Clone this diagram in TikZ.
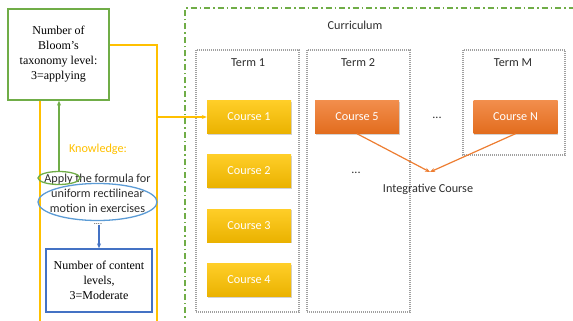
\documentclass[tikz,border=0pt]{standalone}
\usepackage{fontspec}
\setmainfont{Liberation Serif}
\newfontfamily\calib{Carlito}
\usetikzlibrary{arrows.meta,shapes.geometric,shadows}
\definecolor{ygold}{RGB}{255,192,0}
\definecolor{ggreen}{RGB}{112,173,71}
\definecolor{bblue}{RGB}{68,114,196}
\definecolor{lblue}{RGB}{91,155,213}
\definecolor{oorange}{RGB}{237,125,49}
\definecolor{dgray}{RGB}{160,160,160}
\definecolor{txt}{RGB}{45,45,45}
\tikzset{
  serifbox/.style={draw, line width=1.3pt, fill=white, align=center, inner sep=0pt,
    font=\fontsize{12}{15}\selectfont, text=black},
  sanstext/.style={font=\calib\fontsize{12.2}{15}\selectfont, text=txt, inner sep=0pt, align=center},
  coursebox/.style={rectangle, minimum width=84pt, minimum height=33pt, inner sep=0pt,
    font=\calib\fontsize{12.2}{13}\selectfont, text=white,
    drop shadow={shadow xshift=0.8pt, shadow yshift=-1.2pt, opacity=0.35}},
  ycourse/.style={coursebox, top color={rgb,255:red,255;green,206;blue,40}, bottom color={rgb,255:red,234;green,178;blue,0}},
  ocourse/.style={coursebox, top color={rgb,255:red,242;green,142;blue,76}, bottom color={rgb,255:red,226;green,108;blue,30}},
  termbox/.style={draw=dgray, line width=1.6pt, dash pattern=on 1pt off 1pt},
  yline/.style={draw=ygold, line width=1.2pt},
  arr/.style={-{Stealth[length=5pt,width=4pt]}},
}
\begin{document}
\begin{tikzpicture}[x=1pt,y=-1pt]
\useasboundingbox (0,0) rectangle (573,321);
\clip (0,0) rectangle (573,321);

% curriculum frame
\draw[ggreen, line width=1.3pt, dash pattern=on 6pt off 3pt on 1.5pt off 3pt] (185,340) -- (185,8) -- (590,8);
\node[sanstext] (curr) at (355,25) {Curriculum};

% term boxes
\draw[termbox] (196,50) rectangle (299,312);
\draw[termbox] (307,50) rectangle (410,312);
\draw[termbox] (463,50) rectangle (565,155);
\node[sanstext] (t1) at (248,63) {Term 1};
\node[sanstext] (t2) at (358,63) {Term 2};
\node[sanstext] (tm) at (513,63) {Term M};

% courses
\node[ycourse] (c1) at (249,117) {Course 1};
\node[ycourse] (c2) at (249,171) {Course 2};
\node[ycourse] (c3) at (249,225.5) {Course 3};
\node[ycourse] (c4) at (249,280) {Course 4};
\node[ocourse] (c5) at (357,117) {Course 5};
\node[ocourse] (cn) at (515.5,117) {Course N};
\node[sanstext] (d1) at (437,118) {...};
\node[sanstext] (d2) at (356,173) {...};
\node[sanstext] (ic) at (428,189) {Integrative Course};
\coordinate (ict) at (430,172);
\draw[oorange, line width=1.2pt, arr] (c5.south) -- (ict);
\draw[oorange, line width=1.2pt, arr] (cn.south) -- (ict);

% left part
\node[serifbox, draw=ggreen, minimum width=101pt, minimum height=91pt] (bloom) at (58.5,54.5)
  {Number of\\Bloom's\\taxonomy level:\\3=applying};
\coordinate (ytop) at (157,45);
\coordinate (ybot) at (157,340);
\coordinate (ylb) at (40,340);
\coordinate (yjoin) at (157,117);
\draw[yline] (bloom.east |- ytop) -- (ytop) -- (ybot);
\draw[yline] (bloom.south -| ylb) -- (ylb);
\draw[yline, arr] (yjoin) -- (c1.west);

\node[font=\calib\fontsize{12.2}{13}\selectfont, text=ygold, inner sep=0pt] (know) at (98,149) {Knowledge:};
\node[sanstext] (apply) at (97.5,193) {Apply the formula for\\uniform rectilinear\\motion in exercises};
\node[ellipse, draw=ggreen, line width=1.3pt, minimum width=42pt, minimum height=13pt, inner sep=0pt] (gell) at (59,178) {};
\node[ellipse, draw=lblue, line width=1.3pt, minimum width=119pt, minimum height=37pt, inner sep=0pt] (bell) at (97.5,202) {};
\draw[ggreen, line width=1.2pt, arr] (gell.north) -- (gell.north |- bloom.south);
\node[font=\calib\fontsize{8}{9}\selectfont, text=txt, inner sep=0pt] (dots) at (98,224) {....};
\node[serifbox, draw=bblue, minimum width=106pt, minimum height=63pt] (content) at (99,280.5)
  {Number of content\\levels,\\3=Moderate};
\draw[bblue, line width=1.2pt, arr] (dots.south -| content.north) -- (content.north);
\end{tikzpicture}
\end{document}
